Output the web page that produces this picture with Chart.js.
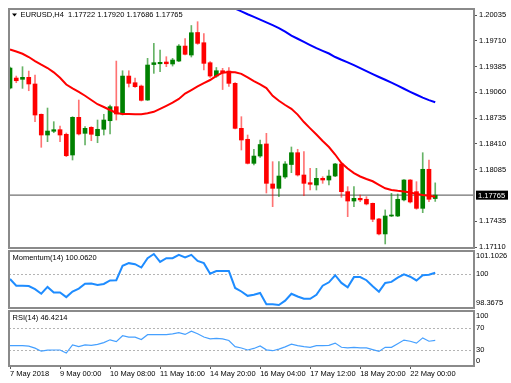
<!DOCTYPE html>
<html>
<head>
<meta charset="utf-8">
<script src="https://cdn.jsdelivr.net/npm/chart.js@4.4.1/dist/chart.umd.min.js"></script>
<style>
  body { margin: 0; background: #fff; }
  canvas { position: absolute; left: 0; top: 0; }
</style>
</head>
<body>
<canvas id="mainChart" width="511" height="383"></canvas>
<canvas id="momChart" width="511" height="383"></canvas>
<canvas id="rsiChart" width="511" height="383"></canvas>
<script>
// time axis: bar index of each label and its text
const tickBars = [0, 8, 16, 24, 32, 40, 48, 56, 64];
const tickLabels = ['7 May 2018', '9 May 00:00', '10 May 08:00', '11 May 16:00', '14 May 20:00',
  '16 May 04:00', '17 May 12:00', '18 May 20:00', '22 May 00:00'];

const priceTicks = [1.17110, 1.17435, 1.18085, 1.18410, 1.18735, 1.19060, 1.19385, 1.19710, 1.20035];
const momTicks = [98.3675, 100, 101.1026];
const rsiTicks = [0, 30, 70, 100];
const momLevels = [100];
const rsiLevels = [30, 70];

// EURUSD H4 candles
const opens = [
  1.19115, 1.19241, 1.19225, 1.19250, 1.19166, 1.18784, 1.18523, 1.18570, 1.18590, 1.18532,
  1.18271, 1.18746, 1.18544, 1.18620, 1.18514, 1.18595, 1.18703, 1.18880, 1.18788, 1.19266,
  1.19182, 1.19140, 1.18964, 1.19411, 1.19421, 1.19443, 1.19418, 1.19455, 1.19644, 1.19531,
  1.19815, 1.19686, 1.19434, 1.19266, 1.19333, 1.19329, 1.19174, 1.18607, 1.18469, 1.18166,
  1.18258, 1.18410, 1.17906, 1.17851, 1.17994, 1.18151, 1.18300, 1.18019, 1.17922, 1.17893,
  1.17977, 1.17956, 1.18006, 1.18158, 1.17809, 1.17691, 1.17725, 1.17713, 1.17662, 1.17465,
  1.17276, 1.17502, 1.17502, 1.17705, 1.17956, 1.17809, 1.17599, 1.18091, 1.17722];
const highs = [
  1.19380, 1.19266, 1.19384, 1.19329, 1.19279, 1.18788, 1.18863, 1.18691, 1.18636, 1.18548,
  1.18754, 1.18964, 1.18628, 1.18628, 1.18712, 1.18784, 1.18901, 1.19455, 1.19333, 1.19333,
  1.19241, 1.19153, 1.19489, 1.19678, 1.19594, 1.19510, 1.19489, 1.19663, 1.19739, 1.19903,
  1.19951, 1.19802, 1.19447, 1.19374, 1.19363, 1.19374, 1.19185, 1.18754, 1.18523, 1.18343,
  1.18460, 1.18544, 1.18187, 1.18189, 1.18187, 1.18372, 1.18343, 1.18313, 1.18103, 1.18103,
  1.17998, 1.18082, 1.18166, 1.18166, 1.17872, 1.17872, 1.17767, 1.17746, 1.17666, 1.17473,
  1.17579, 1.17788, 1.17780, 1.17962, 1.17962, 1.17935, 1.18300, 1.18208, 1.17920];
const lows = [
  1.19103, 1.19182, 1.19111, 1.19081, 1.18691, 1.18368, 1.18439, 1.18552, 1.18439, 1.18250,
  1.18208, 1.18523, 1.18397, 1.18451, 1.18426, 1.18523, 1.18536, 1.18712, 1.18775, 1.19128,
  1.19124, 1.18951, 1.18958, 1.19300, 1.19321, 1.19384, 1.19392, 1.19447, 1.19531, 1.19506,
  1.19666, 1.19342, 1.19250, 1.19250, 1.19096, 1.19134, 1.18599, 1.18334, 1.18158, 1.18145,
  1.18242, 1.17792, 1.17620, 1.17746, 1.17977, 1.18048, 1.18006, 1.17758, 1.17830, 1.17830,
  1.17914, 1.17893, 1.17998, 1.17738, 1.17494, 1.17620, 1.17683, 1.17642, 1.17431, 1.17264,
  1.17150, 1.17494, 1.17494, 1.17691, 1.17666, 1.17587, 1.17544, 1.17683, 1.17686];
const closes = [
  1.19367, 1.19207, 1.19250, 1.19166, 1.18775, 1.18523, 1.18573, 1.18590, 1.18523, 1.18262,
  1.18746, 1.18536, 1.18607, 1.18532, 1.18595, 1.18712, 1.18880, 1.18788, 1.19266, 1.19174,
  1.19132, 1.18960, 1.19405, 1.19434, 1.19439, 1.19421, 1.19468, 1.19644, 1.19540, 1.19812,
  1.19678, 1.19426, 1.19266, 1.19333, 1.19308, 1.19174, 1.18607, 1.18460, 1.18166, 1.18258,
  1.18403, 1.17914, 1.17851, 1.18006, 1.18158, 1.18300, 1.18019, 1.17914, 1.17902, 1.17977,
  1.17956, 1.18006, 1.18158, 1.17809, 1.17691, 1.17725, 1.17705, 1.17654, 1.17461, 1.17276,
  1.17502, 1.17515, 1.17713, 1.17956, 1.17679, 1.17599, 1.18091, 1.17713, 1.17765];

// moving averages (red fast, blue slow starting at bar 34)
const maFast = [
  1.19600, 1.19575, 1.19547, 1.19506, 1.19455, 1.19409, 1.19367, 1.19313, 1.19244, 1.19159,
  1.19111, 1.19066, 1.19018, 1.18964, 1.18911, 1.18876, 1.18838, 1.18801, 1.18789, 1.18788,
  1.18786, 1.18785, 1.18796, 1.18815, 1.18852, 1.18891, 1.18930, 1.18977, 1.19045, 1.19090,
  1.19135, 1.19177, 1.19216, 1.19269, 1.19309, 1.19318, 1.19314, 1.19294, 1.19248, 1.19203,
  1.19162, 1.19115, 1.19017, 1.18955, 1.18901, 1.18853, 1.18780, 1.18686, 1.18607, 1.18529,
  1.18447, 1.18372, 1.18277, 1.18170, 1.18101, 1.18042, 1.18000, 1.17969, 1.17940, 1.17896,
  1.17851, 1.17831, 1.17820, 1.17812, 1.17799, 1.17781, 1.17768, 1.17757, 1.17746];
const maSlowStart = 34;
const maSlow = [
  1.20186, 1.20151, 1.20117, 1.20082, 1.20045, 1.20011, 1.19977, 1.19943, 1.19908, 1.19871,
  1.19826, 1.19775, 1.19736, 1.19696, 1.19657, 1.19618, 1.19584, 1.19550, 1.19506, 1.19471,
  1.19439, 1.19404, 1.19366, 1.19328, 1.19290, 1.19254, 1.19219, 1.19183, 1.19145, 1.19106,
  1.19067, 1.19030, 1.18994, 1.18963, 1.18935];

const momentum = [
  99.76, 99.44, 99.44, 99.42, 99.27, 99.05, 99.38, 99.11, 99.11, 98.89,
  99.16, 99.30, 99.53, 99.54, 99.47, 99.52, 99.69, 99.70, 100.39, 100.52,
  100.47, 100.31, 100.76, 100.96, 100.58, 100.76, 100.76, 100.92, 100.80, 100.92,
  100.63, 100.52, 100.01, 100.14, 100.14, 100.14, 99.33, 99.16, 98.95, 99.00,
  99.09, 98.55, 98.55, 98.51, 98.72, 99.05, 98.92, 98.81, 98.81, 99.00,
  99.44, 99.60, 99.94, 99.57, 99.36, 99.85, 99.85, 99.70, 99.41, 99.15,
  99.57, 99.62, 99.82, 99.98, 99.87, 99.69, 99.94, 99.96, 100.0620];
const rsi = [
  37.0, 37.0, 37.0, 36.1, 32.4, 26.9, 28.7, 29.1, 29.1, 23.5,
  38.3, 35.2, 38.3, 37.4, 39.3, 42.6, 47.6, 44.4, 55.0, 52.4,
  52.4, 48.1, 56.9, 56.9, 56.9, 56.9, 58.5, 60.6, 57.4, 63.3,
  58.7, 52.8, 49.4, 50.4, 49.4, 46.3, 35.2, 32.8, 29.1, 31.9,
  36.3, 29.3, 27.8, 30.7, 34.8, 39.8, 37.2, 35.2, 33.9, 37.0,
  37.0, 37.6, 41.7, 34.1, 32.8, 33.9, 32.8, 32.8, 29.8, 26.5,
  33.9, 33.9, 40.4, 47.2, 45.0, 41.5, 51.1, 45.0, 46.4214];

const colorUp = '#008000';
const colorDown = '#ff0000';
const wickUp = 'rgba(0,128,0,0.6)';
const wickDown = 'rgba(255,0,0,0.55)';
const fontFamily = '"Liberation Sans", Arial, sans-serif';

Chart.defaults.font.family = fontFamily;
Chart.defaults.font.size = 7.5;
Chart.defaults.color = '#000';
Chart.defaults.animation = false;

const xMin = -0.16;
const xMax = 74.2;
const last = closes.length - 1;

// frame round each panel
const framePlugin = {
  id: 'frame',
  afterDraw(chart) {
    const a = chart.chartArea;
    const ctx = chart.ctx;
    ctx.save();
    ctx.strokeStyle = '#8a8a8a';
    ctx.lineWidth = 2;
    ctx.strokeRect(a.left, a.top, a.right - a.left, a.bottom - a.top);
    ctx.restore();
  }
};

// dotted level lines
const levelsPlugin = {
  id: 'levels',
  beforeDatasetsDraw(chart, args, opts) {
    const a = chart.chartArea;
    const ctx = chart.ctx;
    ctx.save();
    ctx.strokeStyle = '#b4b4b4';
    ctx.lineWidth = 1;
    ctx.setLineDash([2, 2]);
    (opts.values || []).forEach((v) => {
      const y = Math.round(chart.scales.y.getPixelForValue(v)) + 0.5;
      ctx.beginPath();
      ctx.moveTo(a.left, y);
      ctx.lineTo(a.right, y);
      ctx.stroke();
    });
    ctx.restore();
  }
};

// text in the top left of a panel
const captionPlugin = {
  id: 'caption',
  afterDraw(chart, args, opts) {
    if (!opts.text) return;
    const ctx = chart.ctx;
    ctx.save();
    ctx.font = '7.5px ' + fontFamily;
    ctx.fillStyle = '#000';
    ctx.textBaseline = 'middle';
    if (opts.marker) {
      ctx.beginPath();
      ctx.moveTo(12, 13.5);
      ctx.lineTo(17, 13.5);
      ctx.lineTo(14.5, 16.5);
      ctx.closePath();
      ctx.fill();
    }
    ctx.fillText(opts.text, opts.x, opts.y);
    ctx.restore();
  }
};

// current price line and black tag
const pricePlugin = {
  id: 'price',
  beforeDatasetsDraw(chart) {
    const a = chart.chartArea;
    const ctx = chart.ctx;
    const y = chart.scales.y.getPixelForValue(closes[last]);
    ctx.save();
    ctx.strokeStyle = '#707070';
    ctx.lineWidth = 1.2;
    ctx.beginPath();
    ctx.moveTo(a.left, y);
    ctx.lineTo(a.right, y);
    ctx.stroke();
    ctx.restore();
  },
  afterDraw(chart) {
    const a = chart.chartArea;
    const ctx = chart.ctx;
    const y = chart.scales.y.getPixelForValue(closes[last]);
    ctx.save();
    ctx.fillStyle = '#000';
    ctx.fillRect(a.right + 2, y - 4.5, 32, 9);
    ctx.fillStyle = '#fff';
    ctx.font = '7.5px ' + fontFamily;
    ctx.textBaseline = 'middle';
    ctx.fillText(closes[last].toFixed(5), a.right + 4, y + 0.5);
    ctx.restore();
  }
};

const hiddenX = { type: 'linear', min: xMin, max: xMax, offset: false, display: false };

const setRightWidth = (scale) => { scale.width = 37; };

// main price panel
const candleBody = closes.map((c, i) => ({ x: i, y: [opens[i], c] }));
const candleWick = closes.map((c, i) => ({ x: i, y: [lows[i], highs[i]] }));
const isUp = closes.map((c, i) => c >= opens[i]);

new Chart(document.getElementById('mainChart'), {
  type: 'bar',
  data: {
    datasets: [
      {
        type: 'line',
        data: maFast.map((v, i) => ({ x: i, y: v })),
        borderColor: '#ff0000',
        borderWidth: 2,
        pointRadius: 0,
        tension: 0,
      },
      {
        type: 'line',
        data: maSlow.map((v, j) => ({ x: maSlowStart + j, y: v })),
        borderColor: '#0000ff',
        borderWidth: 2,
        pointRadius: 0,
        tension: 0,
      },
      {
        type: 'bar',
        data: candleBody,
        backgroundColor: isUp.map((u) => (u ? colorUp : colorDown)),
        barThickness: 4,
        minBarLength: 1,
        grouped: false,
      },
      {
        type: 'bar',
        data: candleWick,
        backgroundColor: isUp.map((u) => (u ? wickUp : wickDown)),
        barThickness: 1,
        grouped: false,
      },
    ],
  },
  options: {
    responsive: false,
    devicePixelRatio: 1,
    layout: { padding: { left: 9, top: 9, right: 0, bottom: 135 } },
    scales: {
      x: hiddenX,
      y: {
        type: 'linear',
        position: 'right',
        min: 1.17099,
        max: 1.20111,
        beginAtZero: false,
        afterFit: setRightWidth,
        afterBuildTicks: (s) => { s.ticks = priceTicks.map((v) => ({ value: v })); },
        grid: { drawOnChartArea: false, drawTicks: true, tickLength: 3, tickColor: '#555' },
        border: { display: false },
        ticks: { autoSkip: false, padding: 2, callback: (v) => v.toFixed(5) },
      },
    },
    plugins: {
      legend: { display: false },
      tooltip: { enabled: false },
      caption: {
        marker: true,
        x: 20.5,
        y: 15,
        text: 'EURUSD,H4  ' + [opens[last], highs[last], lows[last], closes[last]].map((v) => v.toFixed(5)).join(' '),
      },
    },
  },
  plugins: [pricePlugin, framePlugin, captionPlugin],
});

// momentum panel
new Chart(document.getElementById('momChart'), {
  type: 'line',
  data: {
    datasets: [{
      data: momentum.map((v, i) => ({ x: i, y: v })),
      borderColor: '#1e8cff',
      borderWidth: 2,
      pointRadius: 0,
      tension: 0,
    }],
  },
  options: {
    responsive: false,
    devicePixelRatio: 1,
    layout: { padding: { left: 9, top: 251, right: 0, bottom: 75 } },
    scales: {
      x: hiddenX,
      y: {
        type: 'linear',
        position: 'right',
        min: momTicks[0],
        max: momTicks[momTicks.length - 1],
        afterFit: setRightWidth,
        afterBuildTicks: (s) => { s.ticks = momTicks.map((v) => ({ value: v })); },
        grid: { display: false, drawTicks: false },
        border: { display: false },
        ticks: {
          autoSkip: false,
          padding: 2,
          font: { lineHeight: 1.4 },
          callback: (v, i) => {
            const t = String(momTicks[i]);
            if (i === 0) return [t, ''];
            if (i === momTicks.length - 1) return ['', t];
            return t;
          },
        },
      },
    },
    plugins: {
      legend: { display: false },
      tooltip: { enabled: false },
      levels: { values: momLevels },
      caption: { x: 12.5, y: 258, text: 'Momentum(14) ' + momentum[last].toFixed(4) },
    },
  },
  plugins: [levelsPlugin, framePlugin, captionPlugin],
});

// RSI panel with the time axis
new Chart(document.getElementById('rsiChart'), {
  type: 'line',
  data: {
    datasets: [{
      data: rsi.map((v, i) => ({ x: i, y: v })),
      borderColor: '#46a0ff',
      borderWidth: 1.2,
      pointRadius: 0,
      tension: 0,
    }],
  },
  options: {
    responsive: false,
    devicePixelRatio: 1,
    layout: { padding: { left: 9, top: 311, right: 0, bottom: 0 } },
    scales: {
      x: {
        type: 'linear',
        min: xMin,
        max: xMax,
        offset: false,
        afterFit: (s) => { s.height = 17; },
        afterBuildTicks: (s) => { s.ticks = tickBars.map((v) => ({ value: v })); },
        grid: { drawOnChartArea: false, drawTicks: true, tickLength: 3, tickColor: '#555' },
        border: { display: false },
        ticks: {
          autoSkip: false,
          maxRotation: 0,
          align: 'start',
          padding: 0,
          callback: (v, i) => tickLabels[i],
        },
      },
      y: {
        type: 'linear',
        position: 'right',
        min: 0,
        max: 100,
        afterFit: setRightWidth,
        afterBuildTicks: (s) => { s.ticks = rsiTicks.map((v) => ({ value: v })); },
        grid: { display: false, drawTicks: false },
        border: { display: false },
        ticks: {
          autoSkip: false,
          padding: 2,
          font: { lineHeight: 1.4 },
          callback: (v, i) => {
            const t = String(rsiTicks[i]);
            if (i === 0) return [t, ''];
            if (i === rsiTicks.length - 1) return ['', t];
            return t;
          },
        },
      },
    },
    plugins: {
      legend: { display: false },
      tooltip: { enabled: false },
      levels: { values: rsiLevels },
      caption: { x: 12.5, y: 318, text: 'RSI(14) ' + rsi[last].toFixed(4) },
    },
  },
  plugins: [levelsPlugin, framePlugin, captionPlugin],
});
</script>
</body>
</html>
